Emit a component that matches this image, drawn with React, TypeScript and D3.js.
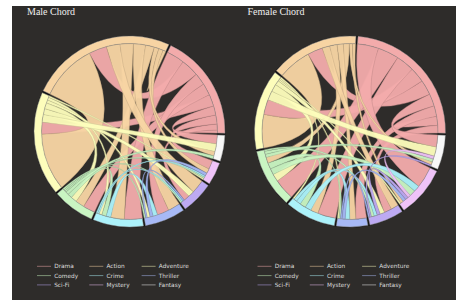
import React from "react";
import * as d3 from "d3";

const genres = ["Drama", "Action", "Adventure", "Comedy", "Crime", "Thriller", "Sci-Fi", "Mystery", "Fantasy"];
const genreColors = ["#f3abab", "#f7d4a3", "#fdfdbb", "#c9f5c2", "#acf2fa", "#a7b9f6", "#bdaaf3", "#efc3f8", "#f7f7f7"];

// symmetric co-occurrence matrices, order = genres
const maleMatrix = [
  [2, 12, 8, 8, 12, 8, 4, 6, 6],
  [12, 2, 38, 6, 9, 8, 9, 3, 3],
  [8, 38, 0, 4, 2, 2, 4, 1, 5],
  [8, 6, 4, 0, 3, 1, 1, 1, 2],
  [12, 9, 2, 3, 0, 3, 1, 1, 0],
  [8, 8, 2, 1, 3, 0, 1, 2, 0],
  [4, 9, 4, 1, 1, 1, 0, 0, 0],
  [6, 3, 1, 1, 1, 2, 0, 0, 0],
  [6, 3, 5, 2, 0, 0, 0, 0, 0],
];

const femaleMatrix = [
  [6, 10, 10, 14, 12, 7, 5, 14, 8],
  [10, 0, 22, 4, 5, 4, 5, 2, 2],
  [10, 22, 0, 5, 1, 1, 3, 1, 6],
  [14, 4, 5, 0, 4, 1, 2, 4, 2],
  [12, 5, 1, 4, 0, 3, 2, 4, 0],
  [7, 4, 1, 1, 3, 0, 1, 2, 0],
  [5, 5, 3, 2, 2, 1, 0, 2, 1],
  [14, 2, 1, 4, 4, 2, 2, 0, 2],
  [8, 2, 6, 2, 0, 0, 1, 2, 0],
];

const titles = ["Male Chord", "Female Chord"];

const PAD = 0.022;
const OFFSET = (91 / 180) * Math.PI;
const R_OUT = 95.5;
const R_IN = 88;

function mirror(g: any) {
  return { ...g, startAngle: OFFSET - g.endAngle, endAngle: OFFSET - g.startAngle };
}

function ChordPanel({ matrix, dx, title }: { matrix: number[][]; dx: number; title: string }) {
  const cx = 129.5 + dx;
  const cy = 131.5;
  const chords = d3.chord().padAngle(PAD).sortSubgroups(d3.ascending)(matrix);
  const arc = d3.arc<any>().innerRadius(R_IN).outerRadius(R_OUT);
  const ribbon = d3.ribbon<any, any>().radius(R_IN);
  const bgArc = d3.arc<any>().innerRadius(R_IN - 0.5).outerRadius(R_OUT + 0.5).startAngle(0).endAngle(2 * Math.PI);

  const legendX = 37 + dx;
  const legendY = 266.3;
  return (
    <g>
      <text x={27 + dx} y={15} fill="#eeeeee" fontFamily="'Liberation Serif', serif" fontSize={10}>
        {title}
      </text>
      <g transform={`translate(${cx},${cy})`}>
        <path d={bgArc(null as any) || ""} fill="#111" />
        {chords.map((c: any, k: number) => {
          const idx = Math.min(c.source.index, c.target.index);
          const col = genreColors[idx];
          const d = ribbon({ source: mirror(c.source), target: mirror(c.target) } as any) as any;
          return (
            <path
              key={k}
              d={d}
              fill={col}
              fillOpacity={0.96}
              stroke={d3.rgb(col).darker(0.7).toString()}
              strokeWidth={0.45}
            />
          );
        })}
        {chords.groups.map((g: any) => (
          <path
            key={g.index}
            d={arc(mirror(g)) || ""}
            fill={genreColors[g.index]}
            stroke="#8a8a8a"
            strokeWidth={0.5}
          />
        ))}
      </g>
      {genres.map((name, i) => {
        const col = i % 3;
        const row = Math.floor(i / 3);
        const x = legendX + col * 52.3;
        const y = legendY + row * 9.3;
        return (
          <g key={name}>
            <line x1={x} x2={x + 14} y1={y} y2={y} stroke={genreColors[i]} strokeOpacity={0.5} strokeWidth={1} />
            <text
              x={x + 17.2}
              y={y}
              dy="0.35em"
              fill="#dddddd"
              fontFamily="'DejaVu Sans', sans-serif"
              fontSize={5.8}
            >
              {name}
            </text>
          </g>
        );
      })}
    </g>
  );
}

export default function App() {
  return (
    <div style={{ position: "absolute", left: 0, top: 0 }}>
      <svg width={456} height={303} style={{ display: "block" }}>
        <rect x={0} y={0} width={456} height={303} fill="#ffffff" />
        <rect x={12} y={6} width={444} height={294} fill="#2e2c2a" />
        <ChordPanel matrix={maleMatrix} dx={0} title={titles[0]} />
        <ChordPanel matrix={femaleMatrix} dx={220.5} title={titles[1]} />
      </svg>
    </div>
  );
}
